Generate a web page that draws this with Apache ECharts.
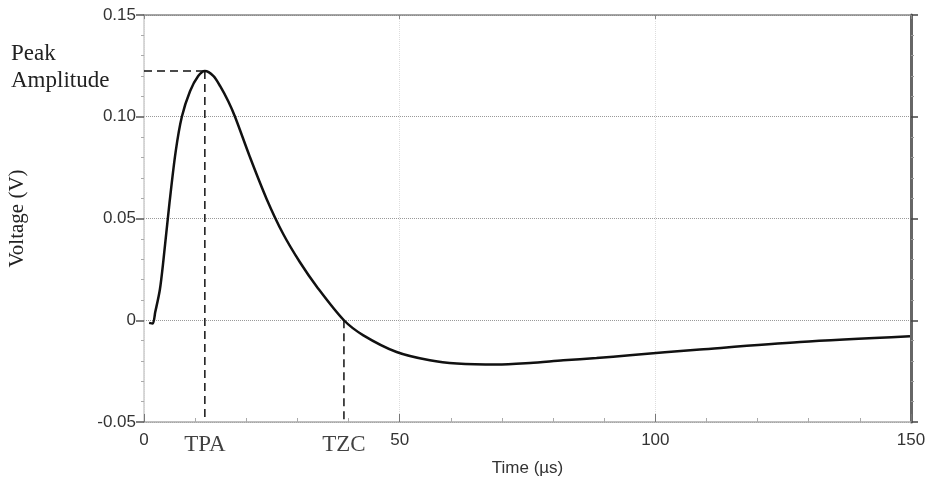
<!DOCTYPE html>
<html>
  <head>
    <meta charset="utf-8" />
    <title>Voltage pulse</title>
    <script src="https://cdn.jsdelivr.net/npm/echarts@6/dist/echarts.min.js"></script>
    <style>
      body { margin: 0; background: #fff; }
    </style>
  </head>
  <body>
    <div id="main" style="width: 933px;height:489px;"></div>
    <script type="text/javascript">
      // time (us) and voltage (V)
      var timeUs = [1.0, 1.7, 2.2, 3.1, 3.8, 5.0, 6.2, 7.4, 9.0, 10.6, 11.9, 13.6, 14.9, 16.5, 17.8,
        20.7, 24.0, 27.2, 30.5, 33.8, 39.1, 42.9, 49.4, 55.9, 61.2, 69, 75.5, 82, 88.5, 95,
        108.7, 128.3, 149.8];
      var voltage = [-0.0013, -0.0016, 0.004, 0.015, 0.0295, 0.058, 0.083, 0.10, 0.1125, 0.12,
        0.1225, 0.12, 0.115, 0.1075, 0.10, 0.0803, 0.0595, 0.0425, 0.0285, 0.0165, 0,
        -0.0074, -0.0156, -0.0197, -0.0213, -0.0218, -0.021, -0.0197, -0.0186, -0.0172,
        -0.0144, -0.0107, -0.0079];

      // markers
      var tpa = 11.9;
      var tzc = 39.1;
      var peak = 0.1225;
      var yMin = -0.05;
      var markerNames = ['TPA', 'TZC'];

      var trace = timeUs.map(function (t, i) { return [t, voltage[i]]; });

      var myChart = echarts.init(document.getElementById('main'));

      var dashStyle = { color: '#111', width: 1.5, type: [8, 5] };

      var option = {
        animation: false,
        grid: { left: 144, right: 22, top: 15, bottom: 67, outerBoundsMode: 'none' },
        xAxis: [
          {
            type: 'value', min: 0, max: 150, interval: 50,
            name: 'Time (\u00b5s)', nameLocation: 'middle', nameGap: 38,
            nameTextStyle: { fontFamily: 'Liberation Sans', fontSize: 17, color: '#333' },
            axisLine: { onZero: false, lineStyle: { color: '#aaa', width: 1.5 } },
            axisTick: { inside: true, length: 8, lineStyle: { color: '#777' } },
            minorTick: { show: true, splitNumber: 5, length: 4, lineStyle: { color: '#aaa' } },
            axisLabel: { fontFamily: 'Liberation Sans', fontSize: 17, color: '#333', margin: 10 },
            splitLine: { show: true, lineStyle: { color: '#ddd', type: 'dotted' } }
          },
          {
            type: 'value', min: 0, max: 150, interval: 50, position: 'top',
            axisLine: { onZero: false, lineStyle: { color: '#888', width: 1.5 } },
            axisTick: { inside: true, length: 4, lineStyle: { color: '#888' } },
            axisLabel: { show: false },
            splitLine: { show: false }
          }
        ],
        yAxis: [
          {
            type: 'value', min: -0.05, max: 0.15, interval: 0.05,
            name: 'Voltage (V)', nameLocation: 'middle', nameRotate: 90, nameGap: 116,
            nameTextStyle: { fontFamily: 'Liberation Serif', fontSize: 21, color: '#222' },
            axisLine: { show: true, onZero: false, lineStyle: { color: '#ccc', width: 1.5 } },
            axisTick: { show: true, length: 8, lineStyle: { color: '#555', width: 1.5 } },
            minorTick: { show: true, splitNumber: 5, length: 3, lineStyle: { color: '#aaa' } },
            axisLabel: {
              fontFamily: 'Liberation Sans', fontSize: 17, color: '#333', margin: 8,
              formatter: function (v) { return Math.abs(v) < 1e-9 ? '0' : v.toFixed(2); }
            },
            splitLine: { show: true, lineStyle: { color: '#999', type: 'dotted' } }
          },
          {
            type: 'value', min: -0.05, max: 0.15, interval: 0.05, position: 'right',
            axisLine: { show: true, onZero: false, lineStyle: { color: '#666', width: 3 } },
            axisTick: { show: true, length: 7, lineStyle: { color: '#444', width: 1.5 } },
            minorTick: { show: true, splitNumber: 5, length: 3, lineStyle: { color: '#999' } },
            axisLabel: { show: false },
            splitLine: { show: false }
          }
        ],
        graphic: [
          {
            type: 'text', left: 11, top: 40,
            style: {
              text: 'Peak\nAmplitude', font: '23px "Liberation Serif"', fill: '#222', lineHeight: 27
            }
          }
        ],
        series: [
          {
            type: 'line', data: trace, smooth: 0.3, showSymbol: false,
            lineStyle: { color: '#111', width: 2.5 }
          },
          {
            type: 'line', data: [[0, peak], [tpa, peak]], showSymbol: false,
            lineStyle: dashStyle
          },
          {
            type: 'line', data: [[tpa, peak], [tpa, yMin]], showSymbol: false,
            lineStyle: dashStyle
          },
          {
            type: 'line', data: [[tzc, 0], [tzc, yMin]], showSymbol: false,
            lineStyle: dashStyle
          },
          {
            type: 'scatter', symbolSize: 0,
            data: [[tpa, yMin, markerNames[0]], [tzc, yMin, markerNames[1]]],
            label: {
              show: true, position: 'bottom', distance: 11,
              formatter: function (p) { return p.value[2]; },
              fontFamily: 'Liberation Serif', fontSize: 23, color: '#111'
            }
          }
        ]
      };

      myChart.setOption(option);
    </script>
  </body>
</html>
